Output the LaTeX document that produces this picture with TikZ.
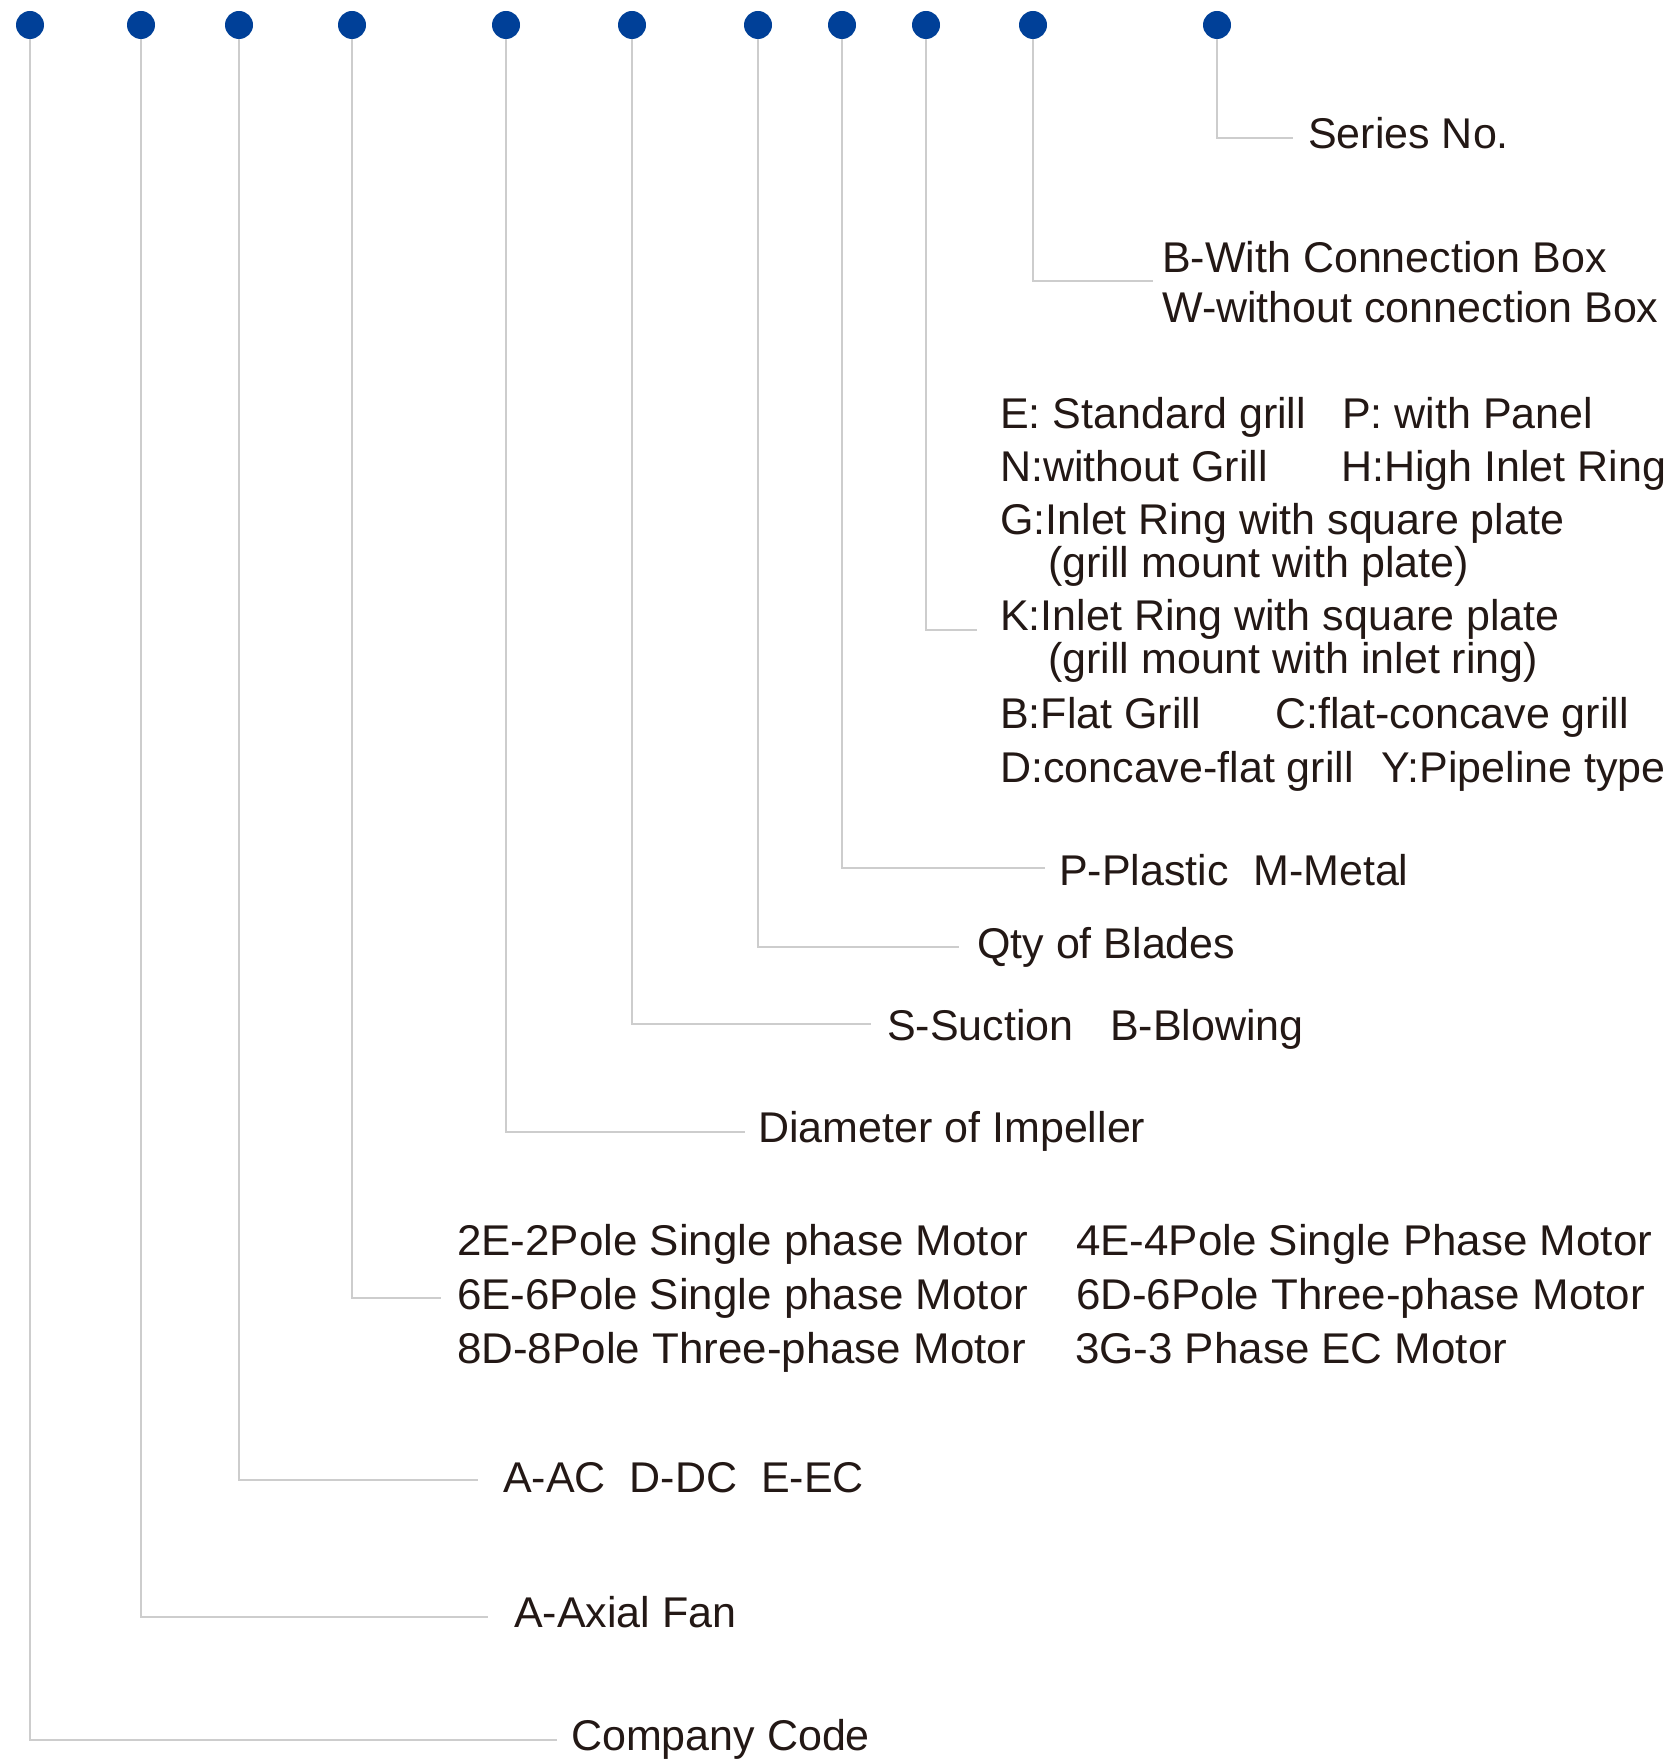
\documentclass[tikz,border=0pt]{standalone}
\usepackage{fontspec}
\setmainfont{Liberation Sans}
\newfontfamily\widesans[FakeStretch=1.021]{Liberation Sans}
\definecolor{dotblue}{RGB}{0,64,152}
\definecolor{linegray}{RGB}{205,205,205}
\definecolor{txt}{RGB}{35,24,21}
\begin{document}
\begin{tikzpicture}[x=1pt,y=-1pt,
  dot/.style={circle,fill=dotblue,minimum size=28pt,inner sep=0pt},
  conn/.style={draw=linegray,line width=2.5pt},
  lbl/.style={anchor=base west,inner sep=0pt,text=txt,font=\fontsize{43}{50}\selectfont},
  wlbl/.style={lbl,font=\widesans\fontsize{43}{50}\selectfont}]
\useasboundingbox (0,0) rectangle (1673,1760);

% dots
\node[dot] (d1)  at (30,25) {};
\node[dot] (d2)  at (141,25) {};
\node[dot] (d3)  at (239,25) {};
\node[dot] (d4)  at (352,25) {};
\node[dot] (d5)  at (506,25) {};
\node[dot] (d6)  at (632,25) {};
\node[dot] (d7)  at (758,25) {};
\node[dot] (d8)  at (842,25) {};
\node[dot] (d9)  at (926,25) {};
\node[dot] (d10) at (1033,25) {};
\node[dot] (d11) at (1217,25) {};

% connector ends
\coordinate (e1)  at (557,1740);
\coordinate (e2)  at (488,1617);
\coordinate (e3)  at (478,1480);
\coordinate (e4)  at (441,1298);
\coordinate (e5)  at (745,1132);
\coordinate (e6)  at (871,1024);
\coordinate (e7)  at (959,947);
\coordinate (e8)  at (1045,868);
\coordinate (e9)  at (977,630);
\coordinate (e10) at (1153,281);
\coordinate (e11) at (1293,138);

\foreach \i in {1,...,11} {\draw[conn] (d\i.south) |- (e\i);}

% labels
\node[lbl] (t1) at (571,1750) {Company Code};
\node[lbl] (t2) at (514,1627) {A-Axial Fan};
\node[lbl] (t3) at (503,1492) {A-AC\ \ D-DC\ \ E-EC};
\node[wlbl] (t4a) at (457,1255) {2E-2Pole Single phase Motor};
\node[wlbl] (t4b) at (457,1309) {6E-6Pole Single phase Motor};
\node[wlbl] (t4c) at (457,1363) {8D-8Pole Three-phase Motor};
\node[wlbl] (t4d) at (1076,1255) {4E-4Pole Single Phase Motor};
\node[wlbl] (t4e) at (1076,1309) {6D-6Pole Three-phase Motor};
\node[wlbl] (t4f) at (1075,1363) {3G-3 Phase EC Motor};
\node[lbl] (t5) at (758,1142) {Diameter of Impeller};
\node[lbl] (t6a) at (887,1040) {S-Suction};
\node[lbl] (t6b) at (1110,1040) {B-Blowing};
\node[lbl] (t7) at (977,958) {Qty of Blades};
\node[lbl] (t8a) at (1059,885) {P-Plastic};
\node[lbl] (t8b) at (1253,885) {M-Metal};
\node[lbl] (t9a) at (1000,428) {E: Standard grill};
\node[lbl] (t9b) at (1342,428) {P: with Panel};
\node[lbl] (t9c) at (1000,481) {N:without Grill};
\node[lbl] (t9d) at (1341,481) {H:High Inlet Ring};
\node[lbl] (t9e) at (1000,534) {G:Inlet Ring with square plate};
\node[lbl] (t9f) at (1048,577) {(grill mount with plate)};
\node[lbl] (t9g) at (1000,630) {K:Inlet Ring with square plate};
\node[lbl] (t9h) at (1048,673) {(grill mount with inlet ring)};
\node[lbl] (t9i) at (1000,728) {B:Flat Grill};
\node[lbl] (t9j) at (1275,728) {C:flat-concave grill};
\node[lbl] (t9k) at (1000,782) {D:concave-flat grill};
\node[lbl] (t9l) at (1381,782) {Y:Pipeline type};
\node[lbl] (t10a) at (1162,273) {B-With Connection Box};
\node[lbl] (t10b) at (1162,323) {W-without connection Box};
\node[lbl] (t11) at (1308,149) {Series No.};
\end{tikzpicture}
\end{document}
